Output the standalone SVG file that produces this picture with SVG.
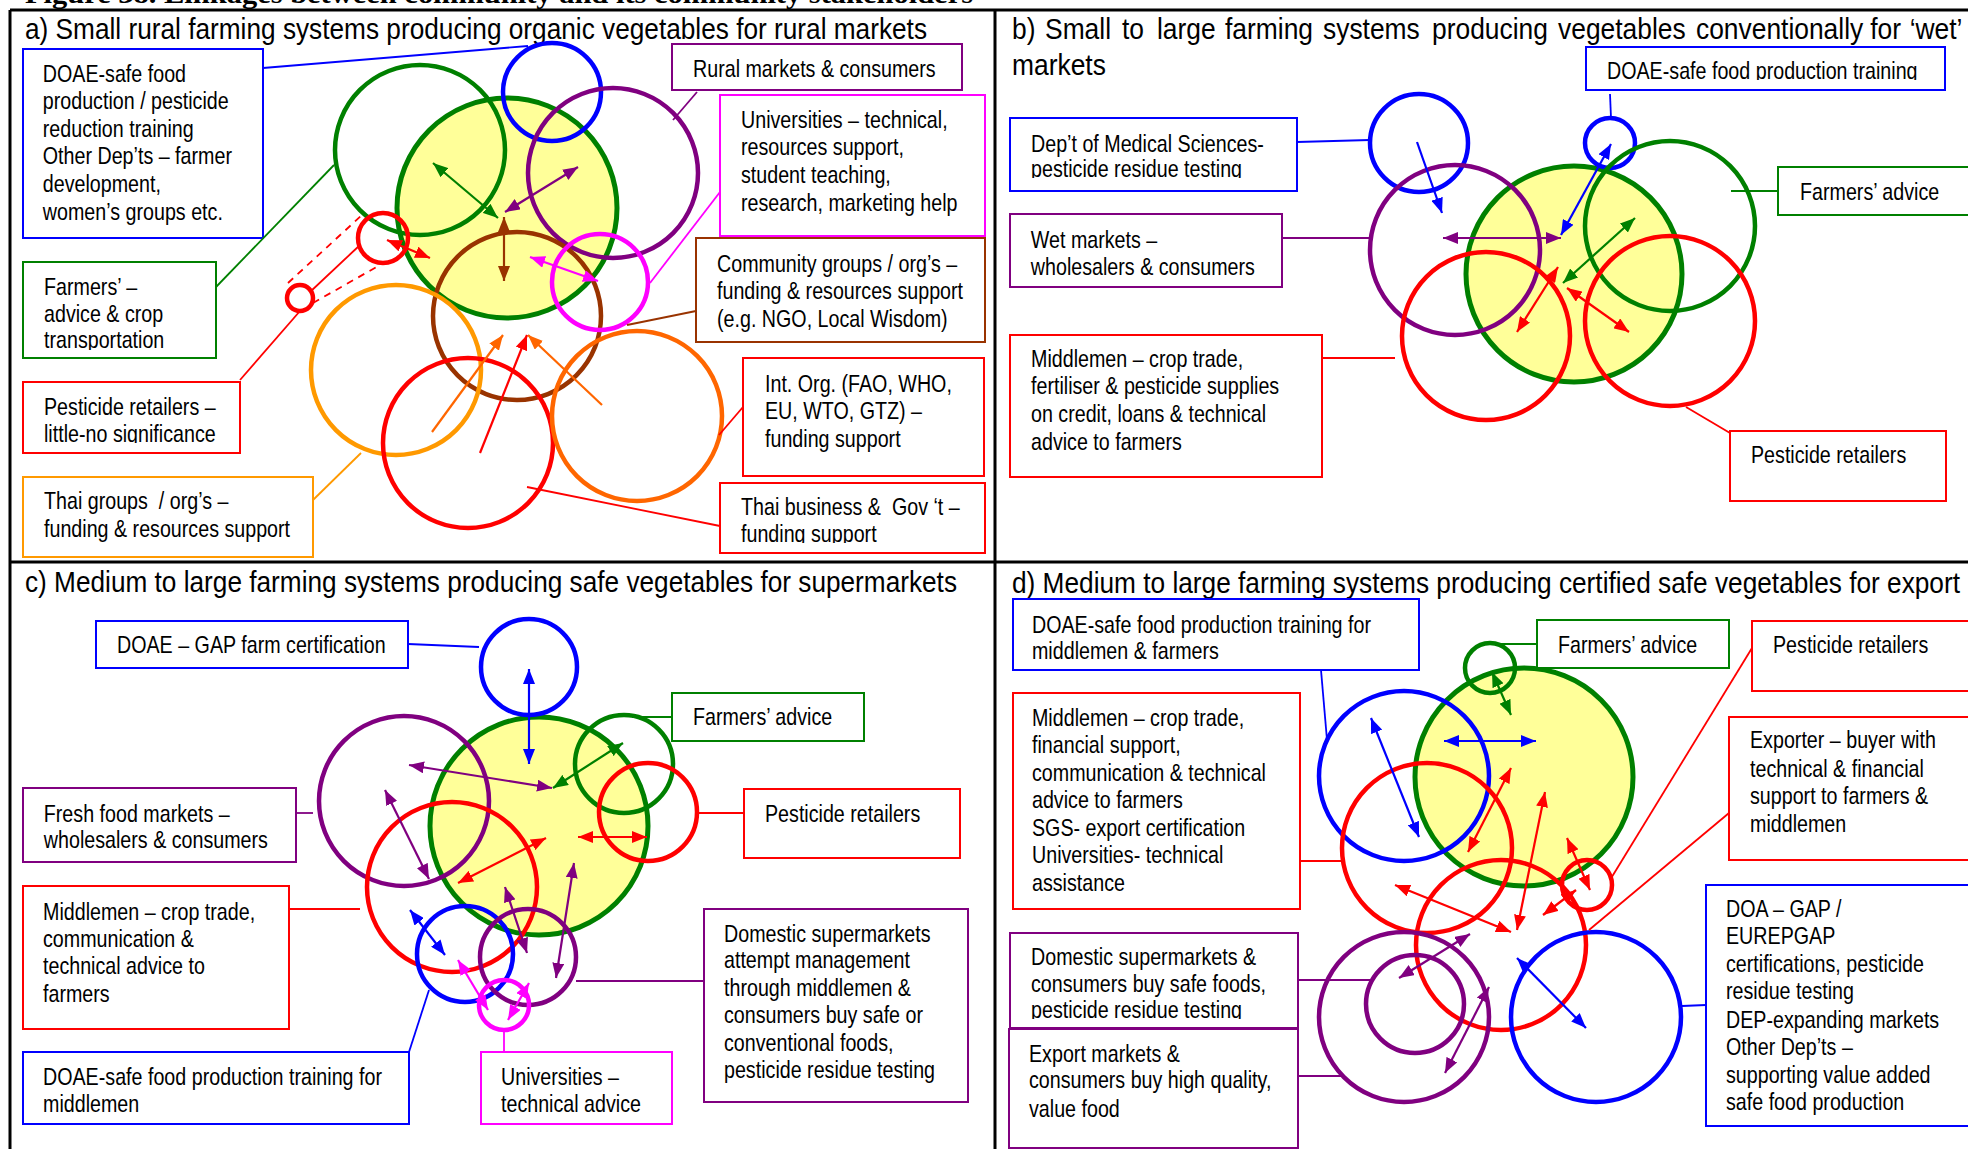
<svg xmlns="http://www.w3.org/2000/svg" width="1968" height="1149" viewBox="0 0 1968 1149">
<style>
  .t{font-family:"Liberation Sans",Arial,sans-serif;font-size:24px;fill:#000;transform-box:fill-box;transform-origin:0 0;transform:scaleX(0.82)}
  .ttl{font-family:"Liberation Sans",Arial,sans-serif;font-size:29.5px;fill:#000}
  .hd{font-family:"Liberation Serif","Times New Roman",serif;font-size:28px;font-weight:bold;fill:#000}
  .frame{stroke:#000;stroke-width:3;fill:none}
  .box{fill:#fff;stroke-width:2}
  .ring{fill:none;stroke-width:4.5}
  .core{fill:#ffff99;stroke:#008000;stroke-width:5}
  .lead{fill:none;stroke-width:1.8}
  .arr{fill:none;stroke-width:2.2}
  .dash{stroke-dasharray:7 6}
  .blue{stroke:#0000ff}
  .green{stroke:#008000}
  .purple{stroke:#800080}
  .red{stroke:#ff0000}
  .mag{stroke:#ff00ff}
  .brown{stroke:#993300}
  .lorange{stroke:#ff9900}
  .dorange{stroke:#ff6600}
  .arr.blue{marker-start:url(#hb);marker-end:url(#hb)}
  .arr.green{marker-start:url(#hg);marker-end:url(#hg)}
  .arr.purple{marker-start:url(#hp);marker-end:url(#hp)}
  .arr.red{marker-start:url(#hr);marker-end:url(#hr)}
  .arr.mag{marker-start:url(#hm);marker-end:url(#hm)}
  .arr.brown{marker-start:url(#hn);marker-end:url(#hn)}
  .arr.dorange{marker-start:url(#ho);marker-end:url(#ho)}
  .arr.one{marker-start:none}
</style>
<defs>
  <marker id="hb" viewBox="0 0 10 10" refX="10" refY="5" markerWidth="15" markerHeight="12" markerUnits="userSpaceOnUse" preserveAspectRatio="none" orient="auto-start-reverse"><path d="M0,0 L10,5 L0,10 Z" fill="#0000ff"/></marker>
  <marker id="hg" viewBox="0 0 10 10" refX="10" refY="5" markerWidth="15" markerHeight="12" markerUnits="userSpaceOnUse" preserveAspectRatio="none" orient="auto-start-reverse"><path d="M0,0 L10,5 L0,10 Z" fill="#008000"/></marker>
  <marker id="hp" viewBox="0 0 10 10" refX="10" refY="5" markerWidth="15" markerHeight="12" markerUnits="userSpaceOnUse" preserveAspectRatio="none" orient="auto-start-reverse"><path d="M0,0 L10,5 L0,10 Z" fill="#800080"/></marker>
  <marker id="hr" viewBox="0 0 10 10" refX="10" refY="5" markerWidth="15" markerHeight="12" markerUnits="userSpaceOnUse" preserveAspectRatio="none" orient="auto-start-reverse"><path d="M0,0 L10,5 L0,10 Z" fill="#ff0000"/></marker>
  <marker id="hm" viewBox="0 0 10 10" refX="10" refY="5" markerWidth="15" markerHeight="12" markerUnits="userSpaceOnUse" preserveAspectRatio="none" orient="auto-start-reverse"><path d="M0,0 L10,5 L0,10 Z" fill="#ff00ff"/></marker>
  <marker id="hn" viewBox="0 0 10 10" refX="10" refY="5" markerWidth="15" markerHeight="12" markerUnits="userSpaceOnUse" preserveAspectRatio="none" orient="auto-start-reverse"><path d="M0,0 L10,5 L0,10 Z" fill="#993300"/></marker>
  <marker id="ho" viewBox="0 0 10 10" refX="10" refY="5" markerWidth="15" markerHeight="12" markerUnits="userSpaceOnUse" preserveAspectRatio="none" orient="auto-start-reverse"><path d="M0,0 L10,5 L0,10 Z" fill="#ff6600"/></marker>
  <!-- overflowing text boxes: last line cut at the box edge -->
  <clipPath id="cA5"><rect x="20" y="262" width="200" height="88"/></clipPath>
  <clipPath id="cA6"><rect x="20" y="382" width="222" height="61"/></clipPath>
  <clipPath id="cA9"><rect x="718" y="483" width="270" height="60"/></clipPath>
  <clipPath id="cB1"><rect x="1008" y="118" width="292" height="60"/></clipPath>
  <clipPath id="cB3"><rect x="1584" y="47" width="364" height="33"/></clipPath>
  <clipPath id="cD6"><rect x="1008" y="933" width="292" height="86"/></clipPath>
</defs>

<rect width="1968" height="1149" fill="#fff"/>

<!-- figure caption (runs off the top edge) -->
<text class="hd" x="25" y="3" textLength="948" lengthAdjust="spacingAndGlyphs">Figure 38. Linkages between community and its community stakeholders</text>

<!-- panel frame -->
<g id="frame" class="frame">
  <line x1="10" y1="10" x2="1968" y2="10"/>
  <line x1="10" y1="10" x2="10" y2="1149"/>
  <line x1="995" y1="10" x2="995" y2="1149"/>
  <line x1="10" y1="562" x2="1968" y2="562"/>
</g>

<!-- panel titles -->
<g id="titles">
  <text class="ttl" x="25" y="39" textLength="902" lengthAdjust="spacingAndGlyphs">a) Small rural farming systems producing organic vegetables for rural markets</text>
  <g transform="translate(1012,0) scale(0.895,1)">
    <text class="ttl" y="39"><tspan x="0">b)</tspan><tspan x="36.9">Small</tspan><tspan x="122.9">to</tspan><tspan x="162">large</tspan><tspan x="238">farming</tspan><tspan x="347.5">systems</tspan><tspan x="469.3">producing</tspan><tspan x="610.1">vegetables</tspan><tspan x="764.2">conventionally</tspan><tspan x="959">for</tspan><tspan x="1003">‘wet’</tspan></text>
    <text class="ttl" x="0" y="75">markets</text>
  </g>
  <text class="ttl" x="25" y="592" textLength="932" lengthAdjust="spacingAndGlyphs">c) Medium to large farming systems producing safe vegetables for supermarkets</text>
  <text class="ttl" x="1012" y="593" textLength="948" lengthAdjust="spacingAndGlyphs">d) Medium to large farming systems producing certified safe vegetables for export</text>
</g>

<!-- ===== a) rural organic ===== -->
<g id="a-farm"><circle class="core" cx="507" cy="208" r="110"/></g>
<g id="a-doae">
  <circle class="ring blue" cx="552" cy="92" r="49"/>
  <rect class="box blue" x="23" y="49" width="240" height="189"/>
  <text class="t"><tspan x="43" y="82">DOAE-safe food</tspan><tspan x="43" y="109">production / pesticide</tspan><tspan x="43" y="137">reduction training</tspan><tspan x="43" y="164">Other Dep’ts – farmer</tspan><tspan x="43" y="192">development,</tspan><tspan x="43" y="220">women’s groups etc.</tspan></text>
</g>
<g id="a-farmers">
  <circle class="ring green" cx="420" cy="150" r="85"/>
  <rect class="box green" x="23" y="262" width="193" height="96"/>
  <g clip-path="url(#cA5)"><text class="t"><tspan x="44" y="295">Farmers’ –</tspan><tspan x="44" y="322">advice &amp; crop</tspan><tspan x="44" y="348">transportation</tspan></text></g>
</g>
<g id="a-rural-markets">
  <circle class="ring purple" cx="613" cy="173" r="85"/>
  <rect class="box purple" x="672" y="44" width="290" height="46"/>
  <text class="t" x="693" y="77">Rural markets &amp; consumers</text>
</g>
<g id="a-community">
  <circle class="ring brown" cx="517" cy="316" r="84"/>
  <rect class="box brown" x="696" y="238" width="289" height="104"/>
  <text class="t"><tspan x="717" y="272">Community groups / org’s –</tspan><tspan x="717" y="299">funding &amp; resources support</tspan><tspan x="717" y="327">(e.g. NGO, Local Wisdom)</tspan></text>
</g>
<g id="a-universities">
  <circle class="ring mag" cx="600" cy="282" r="48"/>
  <rect class="box mag" x="720" y="95" width="265" height="141"/>
  <text class="t"><tspan x="741" y="128">Universities – technical,</tspan><tspan x="741" y="155">resources support,</tspan><tspan x="741" y="183">student teaching,</tspan><tspan x="741" y="211">research, marketing help</tspan></text>
</g>
<g id="a-pesticide">
  <circle class="ring red" cx="383" cy="238" r="25"/>
  <circle class="ring red" cx="300" cy="298" r="13"/>
  <rect class="box red" x="23" y="382" width="217" height="71"/>
  <g clip-path="url(#cA6)"><text class="t"><tspan x="44" y="415">Pesticide retailers –</tspan><tspan x="44" y="442">little-no significance</tspan></text></g>
</g>
<g id="a-thai-groups">
  <circle class="ring lorange" cx="396" cy="370" r="85"/>
  <rect class="box lorange" x="23" y="477" width="290" height="80"/>
  <text class="t" xml:space="preserve"><tspan x="44" y="509">Thai groups  / org’s –</tspan><tspan x="44" y="537">funding &amp; resources support</tspan></text>
</g>
<g id="a-thai-business">
  <circle class="ring red" cx="468" cy="443" r="85"/>
  <rect class="box red" x="720" y="483" width="265" height="70"/>
  <g clip-path="url(#cA9)"><text class="t" xml:space="preserve"><tspan x="741" y="515">Thai business &amp;  Gov ‘t –</tspan><tspan x="741" y="542">funding support</tspan></text></g>
</g>
<g id="a-int-org">
  <circle class="ring dorange" cx="637" cy="416" r="85"/>
  <rect class="box red" x="743" y="358" width="241" height="118"/>
  <text class="t"><tspan x="765" y="392">Int. Org. (FAO, WHO,</tspan><tspan x="765" y="419">EU, WTO, GTZ) –</tspan><tspan x="765" y="447">funding support</tspan></text>
</g>

<!-- ===== b) conventional, wet markets ===== -->
<g id="b-farm"><circle class="core" cx="1574" cy="274" r="108"/></g>
<g id="b-dmsc">
  <circle class="ring blue" cx="1419" cy="143" r="49"/>
  <rect class="box blue" x="1010" y="118" width="287" height="73"/>
  <g clip-path="url(#cB1)"><text class="t"><tspan x="1031" y="152">Dep’t of Medical Sciences-</tspan><tspan x="1031" y="177">pesticide residue testing</tspan></text></g>
</g>
<g id="b-wet-markets">
  <circle class="ring purple" cx="1455" cy="250" r="85"/>
  <rect class="box purple" x="1010" y="214" width="272" height="73"/>
  <text class="t"><tspan x="1031" y="248">Wet markets –</tspan><tspan x="1031" y="275">wholesalers &amp; consumers</tspan></text>
</g>
<g id="b-doae">
  <circle class="ring blue" cx="1610" cy="143" r="25"/>
  <rect class="box blue" x="1586" y="47" width="359" height="43"/>
  <g clip-path="url(#cB3)"><text class="t" x="1607" y="79">DOAE-safe food production training</text></g>
</g>
<g id="b-farmers">
  <circle class="ring green" cx="1670" cy="226" r="85"/>
  <rect class="box green" x="1778" y="167" width="200" height="48"/>
  <text class="t" x="1800" y="200">Farmers’ advice</text>
</g>
<g id="b-middlemen">
  <circle class="ring red" cx="1486" cy="336" r="84"/>
  <rect class="box red" x="1010" y="335" width="312" height="142"/>
  <text class="t"><tspan x="1031" y="367">Middlemen – crop trade,</tspan><tspan x="1031" y="394">fertiliser &amp; pesticide supplies</tspan><tspan x="1031" y="422">on credit, loans &amp; technical</tspan><tspan x="1031" y="450">advice to farmers</tspan></text>
</g>
<g id="b-pesticide">
  <circle class="ring red" cx="1670" cy="321" r="85"/>
  <rect class="box red" x="1730" y="431" width="216" height="70"/>
  <text class="t" x="1751" y="463">Pesticide retailers</text>
</g>

<!-- ===== c) safe vegetables, supermarkets ===== -->
<g id="c-farm"><circle class="core" cx="539" cy="826" r="109"/></g>
<g id="c-gap">
  <circle class="ring blue" cx="529" cy="667" r="48"/>
  <rect class="box blue" x="96" y="621" width="312" height="47"/>
  <text class="t" x="117" y="653">DOAE – GAP farm certification</text>
</g>
<g id="c-farmers">
  <circle class="ring green" cx="624" cy="764" r="49"/>
  <rect class="box green" x="672" y="693" width="192" height="48"/>
  <text class="t" x="693" y="725">Farmers’ advice</text>
</g>
<g id="c-pesticide">
  <circle class="ring red" cx="648" cy="812" r="49"/>
  <rect class="box red" x="744" y="789" width="216" height="69"/>
  <text class="t" x="765" y="822">Pesticide retailers</text>
</g>
<g id="c-fresh-markets">
  <circle class="ring purple" cx="404" cy="801" r="85"/>
  <rect class="box purple" x="23" y="788" width="273" height="74"/>
  <text class="t"><tspan x="44" y="822">Fresh food markets –</tspan><tspan x="44" y="848">wholesalers &amp; consumers</tspan></text>
</g>
<g id="c-middlemen">
  <circle class="ring red" cx="452" cy="887" r="85"/>
  <rect class="box red" x="23" y="886" width="266" height="143"/>
  <text class="t"><tspan x="43" y="920">Middlemen – crop trade,</tspan><tspan x="43" y="947">communication &amp;</tspan><tspan x="43" y="974">technical advice to</tspan><tspan x="43" y="1002">farmers</tspan></text>
</g>
<g id="c-doae">
  <circle class="ring blue" cx="465" cy="954" r="48"/>
  <rect class="box blue" x="23" y="1052" width="386" height="72"/>
  <text class="t"><tspan x="43" y="1085">DOAE-safe food production training for</tspan><tspan x="43" y="1112">middlemen</tspan></text>
</g>
<g id="c-supermarkets">
  <circle class="ring purple" cx="528" cy="957" r="48"/>
  <rect class="box purple" x="704" y="909" width="264" height="193"/>
  <text class="t"><tspan x="724" y="942">Domestic supermarkets</tspan><tspan x="724" y="968">attempt management</tspan><tspan x="724" y="996">through middlemen &amp;</tspan><tspan x="724" y="1023">consumers buy safe or</tspan><tspan x="724" y="1051">conventional foods,</tspan><tspan x="724" y="1078">pesticide residue testing</tspan></text>
</g>
<g id="c-universities">
  <circle class="ring mag" cx="504" cy="1005" r="25"/>
  <rect class="box mag" x="481" y="1052" width="191" height="72"/>
  <text class="t"><tspan x="501" y="1085">Universities –</tspan><tspan x="501" y="1112">technical advice</tspan></text>
</g>

<!-- ===== d) certified safe vegetables, export ===== -->
<g id="d-farm"><circle class="core" cx="1524" cy="777" r="109"/></g>
<g id="d-doae">
  <circle class="ring blue" cx="1404" cy="776" r="85"/>
  <rect class="box blue" x="1013" y="599" width="406" height="71"/>
  <text class="t"><tspan x="1032" y="633">DOAE-safe food production training for</tspan><tspan x="1032" y="659">middlemen &amp; farmers</tspan></text>
</g>
<g id="d-farmers">
  <circle class="ring green" cx="1490" cy="668" r="25"/>
  <rect class="box green" x="1537" y="620" width="192" height="48"/>
  <text class="t" x="1558" y="653">Farmers’ advice</text>
</g>
<g id="d-pesticide">
  <circle class="ring red" cx="1587" cy="885" r="25"/>
  <rect class="box red" x="1752" y="621" width="230" height="70"/>
  <text class="t" x="1773" y="653">Pesticide retailers</text>
</g>
<g id="d-middlemen">
  <circle class="ring red" cx="1427" cy="848" r="85"/>
  <rect class="box red" x="1013" y="693" width="287" height="216"/>
  <text class="t"><tspan x="1032" y="726">Middlemen – crop trade,</tspan><tspan x="1032" y="753">financial support,</tspan><tspan x="1032" y="781">communication &amp; technical</tspan><tspan x="1032" y="808">advice to farmers</tspan><tspan x="1032" y="836">SGS- export certification</tspan><tspan x="1032" y="863">Universities- technical</tspan><tspan x="1032" y="891">assistance</tspan></text>
</g>
<g id="d-exporter">
  <circle class="ring red" cx="1501" cy="945" r="85"/>
  <rect class="box red" x="1729" y="717" width="250" height="143"/>
  <text class="t"><tspan x="1750" y="748">Exporter – buyer with</tspan><tspan x="1750" y="777">technical &amp; financial</tspan><tspan x="1750" y="804">support to farmers &amp;</tspan><tspan x="1750" y="832">middlemen</tspan></text>
</g>
<g id="d-domestic">
  <circle class="ring purple" cx="1415" cy="1004" r="49"/>
  <rect class="box purple" x="1010" y="933" width="288" height="95"/>
  <g clip-path="url(#cD6)"><text class="t"><tspan x="1031" y="965">Domestic supermarkets &amp;</tspan><tspan x="1031" y="992">consumers buy safe foods,</tspan><tspan x="1031" y="1018">pesticide residue testing</tspan></text></g>
</g>
<g id="d-export-markets">
  <circle class="ring purple" cx="1404" cy="1017" r="85"/>
  <rect class="box purple" x="1009" y="1029" width="289" height="119"/>
  <text class="t"><tspan x="1029" y="1062">Export markets &amp;</tspan><tspan x="1029" y="1088">consumers buy high quality,</tspan><tspan x="1029" y="1117">value food</tspan></text>
</g>
<g id="d-doa">
  <circle class="ring blue" cx="1596" cy="1017" r="85"/>
  <rect class="box blue" x="1706" y="885" width="270" height="241"/>
  <text class="t"><tspan x="1726" y="917">DOA – GAP /</tspan><tspan x="1726" y="944">EUREPGAP</tspan><tspan x="1726" y="972">certifications, pesticide</tspan><tspan x="1726" y="999">residue testing</tspan><tspan x="1726" y="1028">DEP-expanding markets</tspan><tspan x="1726" y="1055">Other Dep’ts –</tspan><tspan x="1726" y="1083">supporting value added</tspan><tspan x="1726" y="1110">safe food production</tspan></text>
</g>

<!-- connectors: label leaders and linkage arrows -->
<g id="connectors">
  <!-- a -->
  <line class="lead blue" x1="263" y1="68" x2="528" y2="46"/>
  <line class="lead purple" x1="697" y1="92" x2="673" y2="120"/>
  <line class="lead mag" x1="720" y1="192" x2="650" y2="283"/>
  <line class="lead brown" x1="696" y1="311" x2="627" y2="325"/>
  <line class="lead green" x1="216" y1="287" x2="334" y2="165"/>
  <line class="lead red" x1="240" y1="380" x2="300" y2="311"/>
  <line class="lead lorange" x1="313" y1="500" x2="361" y2="453"/>
  <line class="lead red" x1="743" y1="407" x2="719" y2="435"/>
  <line class="lead red" x1="720" y1="526" x2="527" y2="487"/>
  <line class="lead red dash" x1="288" y1="283" x2="362" y2="215"/>
  <line class="lead red dash" x1="313" y1="303" x2="380" y2="265"/>
  <line class="lead red" x1="310" y1="292" x2="360" y2="245"/>
  <line class="arr red" x1="387" y1="240" x2="430" y2="258"/>
  <line class="arr green" x1="433" y1="163" x2="498" y2="218"/>
  <line class="arr purple" x1="505" y1="212" x2="578" y2="167"/>
  <line class="arr brown" x1="504" y1="217" x2="504" y2="281"/>
  <line class="arr mag" x1="530" y1="257" x2="598" y2="281"/>
  <line class="arr dorange one" x1="432" y1="432" x2="503" y2="335"/>
  <line class="arr dorange one" x1="602" y1="405" x2="528" y2="335"/>
  <line class="arr red one" x1="480" y1="453" x2="527" y2="335"/>
  <!-- b -->
  <line class="lead blue" x1="1297" y1="142" x2="1370" y2="140"/>
  <line class="lead purple" x1="1282" y1="238" x2="1370" y2="238"/>
  <line class="lead blue" x1="1610" y1="94" x2="1611" y2="118"/>
  <line class="lead green" x1="1778" y1="191" x2="1731" y2="191"/>
  <line class="lead red" x1="1322" y1="358" x2="1395" y2="358"/>
  <line class="lead red" x1="1730" y1="433" x2="1686" y2="407"/>
  <line class="arr blue one" x1="1417" y1="142" x2="1442" y2="213"/>
  <line class="arr blue" x1="1611" y1="144" x2="1561" y2="235"/>
  <line class="arr purple" x1="1443" y1="238" x2="1561" y2="238"/>
  <line class="arr green" x1="1635" y1="218" x2="1563" y2="283"/>
  <line class="arr red" x1="1558" y1="267" x2="1517" y2="332"/>
  <line class="arr red" x1="1567" y1="288" x2="1629" y2="332"/>
  <!-- c -->
  <line class="lead blue" x1="408" y1="644" x2="479" y2="647"/>
  <line class="lead green" x1="672" y1="717" x2="632" y2="717"/>
  <line class="lead red" x1="744" y1="813" x2="698" y2="813"/>
  <line class="lead purple" x1="296" y1="813" x2="313" y2="813"/>
  <line class="lead red" x1="289" y1="909" x2="360" y2="909"/>
  <line class="lead blue" x1="409" y1="1052" x2="429" y2="990"/>
  <line class="lead purple" x1="704" y1="981" x2="576" y2="981"/>
  <line class="lead mag" x1="504" y1="1032" x2="504" y2="1052"/>
  <line class="arr blue" x1="529" y1="669" x2="529" y2="764"/>
  <line class="arr green" x1="623" y1="743" x2="553" y2="788"/>
  <line class="arr red" x1="578" y1="837" x2="647" y2="837"/>
  <line class="arr purple" x1="409" y1="765" x2="552" y2="788"/>
  <line class="arr purple" x1="385" y1="790" x2="429" y2="879"/>
  <line class="arr red" x1="458" y1="883" x2="546" y2="838"/>
  <line class="arr blue" x1="410" y1="910" x2="445" y2="955"/>
  <line class="arr purple" x1="505" y1="887" x2="527" y2="953"/>
  <line class="arr purple" x1="574" y1="863" x2="556" y2="978"/>
  <line class="arr mag" x1="458" y1="960" x2="488" y2="1010"/>
  <line class="arr mag" x1="529" y1="983" x2="508" y2="1020"/>
  <!-- d -->
  <line class="lead blue" x1="1321" y1="670" x2="1327" y2="740"/>
  <line class="lead green" x1="1537" y1="644" x2="1498" y2="644"/>
  <line class="lead red" x1="1752" y1="648" x2="1610" y2="880"/>
  <line class="lead red" x1="1729" y1="813" x2="1589" y2="930"/>
  <line class="lead red" x1="1300" y1="861" x2="1342" y2="861"/>
  <line class="lead purple" x1="1298" y1="980" x2="1370" y2="980"/>
  <line class="lead purple" x1="1298" y1="1076" x2="1344" y2="1076"/>
  <line class="lead blue" x1="1706" y1="1005" x2="1682" y2="1006"/>
  <line class="arr blue" x1="1371" y1="718" x2="1419" y2="837"/>
  <line class="arr blue" x1="1444" y1="741" x2="1536" y2="741"/>
  <line class="arr green" x1="1492" y1="672" x2="1511" y2="715"/>
  <line class="arr red" x1="1511" y1="768" x2="1468" y2="852"/>
  <line class="arr red" x1="1545" y1="792" x2="1517" y2="930"/>
  <line class="arr red" x1="1567" y1="838" x2="1590" y2="890"/>
  <line class="arr red" x1="1576" y1="890" x2="1543" y2="915"/>
  <line class="arr red" x1="1395" y1="885" x2="1511" y2="932"/>
  <line class="arr purple" x1="1399" y1="978" x2="1470" y2="934"/>
  <line class="arr purple" x1="1489" y1="987" x2="1445" y2="1073"/>
  <line class="arr blue" x1="1517" y1="958" x2="1586" y2="1028"/>
</g>
</svg>
